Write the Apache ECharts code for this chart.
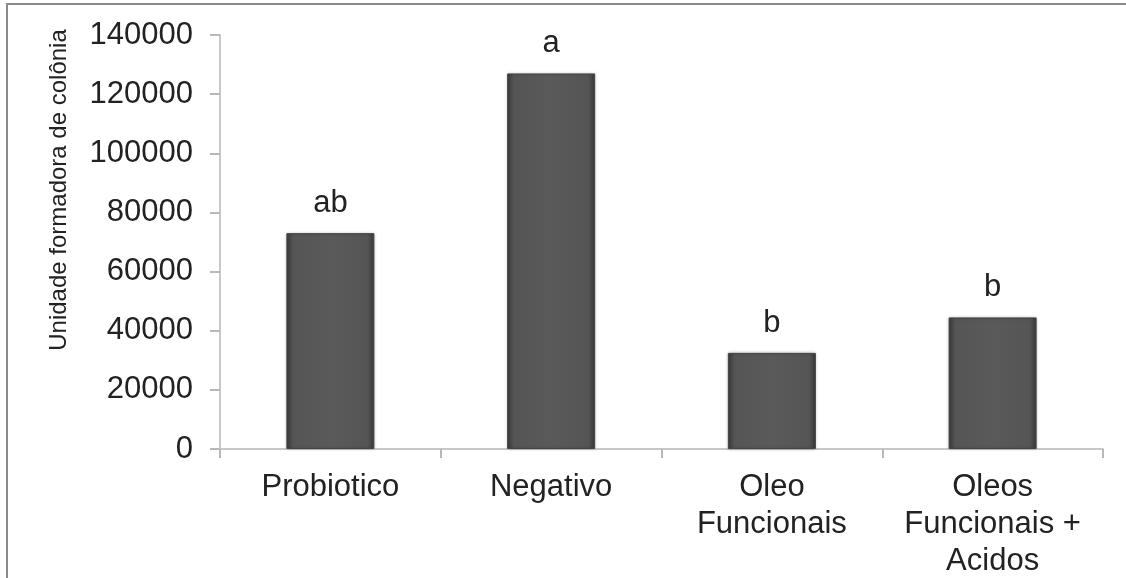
<!DOCTYPE html>
<html>
<head>
<meta charset="utf-8">
<script src="https://cdn.jsdelivr.net/npm/echarts@6/dist/echarts.min.js"></script>
<style>
html,body{margin:0;padding:0;background:#fff;}
#chart{width:1126px;height:578px;}
</style>
</head>
<body>
<div id="chart"></div>
<script>
const categories = ['Probiotico', 'Negativo', 'Oleo\nFuncionais', 'Oleos\nFuncionais +\nAcidos'];
const values = [73000, 127000, 32500, 44500];
const letters = ['ab', 'a', 'b', 'b'];
const yTicks = { min: 0, max: 140000, interval: 20000 };
const yAxisTitle = 'Unidade formadora de colônia';

const chart = echarts.init(document.getElementById('chart'), null, { renderer: 'canvas' });
const font = '"Liberation Sans", Arial, sans-serif';
chart.setOption({
  animation: false,
  backgroundColor: '#fff',
  grid: { left: 220, right: 23, top: 35, bottom: 129, containLabel: false, outerBoundsMode: 'none' },
  graphic: [
    { type: 'line', shape: { x1: 7, y1: 4, x2: 7, y2: 578 }, style: { stroke: '#8a8a8a', lineWidth: 2 } },
    { type: 'line', shape: { x1: 6, y1: 4, x2: 1126, y2: 4 }, style: { stroke: '#8a8a8a', lineWidth: 2 } },
    { type: 'text', x: 59, y: 190, rotation: Math.PI / 2,
      style: { text: yAxisTitle, font: '24px ' + font, fill: '#222', align: 'center', verticalAlign: 'middle' } }
  ],
  xAxis: {
    type: 'category',
    data: categories,
    axisLine: { lineStyle: { color: '#c8c8c8', width: 2 } },
    axisTick: { show: true, length: 9, lineStyle: { color: '#b8b8b8', width: 2 } },
    axisLabel: { color: '#222', fontSize: 31, fontFamily: font, margin: 20, lineHeight: 37, interval: 0 }
  },
  yAxis: {
    type: 'value',
    min: yTicks.min, max: yTicks.max, interval: yTicks.interval,
    axisLine: { show: true, lineStyle: { color: '#c8c8c8', width: 2 } },
    axisTick: { show: true, length: 10, lineStyle: { color: '#b8b8b8', width: 2 } },
    splitLine: { show: false },
    axisLabel: { color: '#222', fontSize: 31, fontFamily: font, margin: 27, formatter: v => String(v) }
  },
  series: [{
    type: 'bar',
    data: values,
    barWidth: 88,
    itemStyle: {
      color: new echarts.graphic.LinearGradient(0, 0, 1, 0, [
        { offset: 0, color: '#3a3a3a' },
        { offset: 0.08, color: '#555' },
        { offset: 0.5, color: '#5a5a5a' },
        { offset: 0.92, color: '#555' },
        { offset: 1, color: '#3a3a3a' }
      ]),
      borderColor: '#444',
      borderWidth: 1,
      shadowColor: 'rgba(0,0,0,0.25)',
      shadowBlur: 3
    },
    label: {
      show: true,
      position: 'top',
      distance: 14,
      color: '#222',
      fontSize: 31,
      fontFamily: font,
      formatter: p => letters[p.dataIndex]
    }
  }]
});
</script>
</body>
</html>
